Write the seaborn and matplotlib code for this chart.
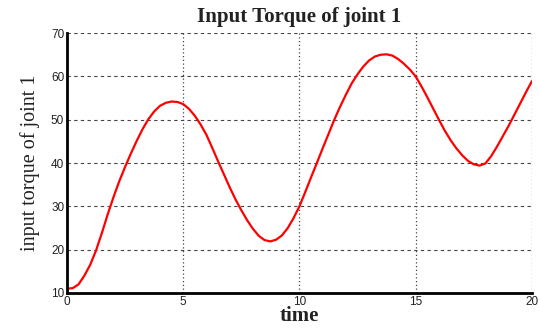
import matplotlib
matplotlib.use("Agg")
import matplotlib.pyplot as plt
import seaborn as sns
import pandas as pd

time = [0.0, 0.25, 0.5, 0.75, 1.0, 1.25, 1.5, 1.75, 2.0, 2.25, 2.5, 2.75, 3.0, 3.25, 3.5, 3.75,
        4.0, 4.25, 4.5, 4.75, 5.0, 5.25, 5.5, 5.75, 6.0, 6.25, 6.5, 6.75, 7.0, 7.25, 7.5, 7.75,
        8.0, 8.25, 8.5, 8.75, 9.0, 9.25, 9.5, 9.75, 10.0, 10.25, 10.5, 10.75, 11.0, 11.25, 11.5,
        11.75, 12.0, 12.25, 12.5, 12.75, 13.0, 13.25, 13.5, 13.75, 14.0, 14.25, 14.5, 14.75,
        15.0, 15.25, 15.5, 15.75, 16.0, 16.25, 16.5, 16.75, 17.0, 17.25, 17.5, 17.75, 18.0,
        18.25, 18.5, 18.75, 19.0, 19.25, 19.5, 19.75, 20.0]
torque = [11.0, 11.1, 12.0, 14.0, 16.5, 19.8, 23.8, 28.1, 32.1, 35.8, 39.1, 42.2, 45.1, 47.8,
          50.1, 51.9, 53.2, 53.9, 54.2, 54.1, 53.6, 52.5, 50.9, 48.9, 46.5, 43.5, 40.4, 37.4,
          34.4, 31.6, 29.1, 26.8, 24.8, 23.2, 22.2, 21.9, 22.3, 23.3, 25.0, 27.3, 30.0, 33.3,
          36.7, 40.0, 43.4, 46.7, 50.0, 53.0, 55.8, 58.4, 60.5, 62.3, 63.7, 64.6, 65.0, 65.1,
          64.8, 64.0, 62.9, 61.6, 60.0, 57.7, 55.2, 52.6, 50.0, 47.5, 45.3, 43.4, 41.8, 40.5,
          39.7, 39.4, 39.9, 41.6, 43.8, 46.2, 48.6, 51.2, 53.8, 56.4, 58.9]

title = "Input Torque of joint 1"
xlabel = "time"
ylabel = "input torque of joint 1"
xticks = [0, 5, 10, 15, 20]
yticks = [10, 20, 30, 40, 50, 60, 70]

df = pd.DataFrame({"time": time, "torque": torque})

sns.set_style("white")
fig = plt.figure(figsize=(5.4, 3.31), dpi=100)
ax = fig.add_axes([0.124, 0.115, 0.861, 0.785])
sns.lineplot(data=df, x="time", y="torque", ax=ax, color="#ff0000", linewidth=1.6)

ax.set_xlim(0, 20)
ax.set_ylim(10, 70)
ax.set_xticks(xticks)
ax.set_yticks(yticks)
ax.set_xticklabels([str(t) for t in xticks], fontfamily="Liberation Sans", fontsize=8.5, color="#333333")
ax.set_yticklabels([str(t) for t in yticks], fontfamily="Liberation Sans", fontsize=8.5, color="#333333")
ax.tick_params(direction="in", length=4, width=1, colors="#222222", pad=2)

for v in yticks[1:]:
    ax.axhline(v, color="#444444", linestyle=(0, (3, 3)), linewidth=0.8, zorder=0)
for v in xticks[1:]:
    ax.axvline(v, color="#444444", linestyle=(0, (1, 2)), linewidth=0.9, zorder=0)

for s in ["top", "right"]:
    ax.spines[s].set_visible(False)
for s in ["left", "bottom"]:
    ax.spines[s].set_linewidth(2)
    ax.spines[s].set_color("black")

ax.set_title(title, fontfamily="Liberation Serif", fontsize=15, fontweight="bold", color="#222222", pad=8)
ax.set_xlabel(xlabel, fontfamily="Liberation Serif", fontsize=15, fontweight="bold", color="#222222", labelpad=-1)
ax.set_ylabel(ylabel, fontfamily="Liberation Serif", fontsize=14.5, color="#222222", labelpad=8)

fig.savefig("out.png", dpi=100)
